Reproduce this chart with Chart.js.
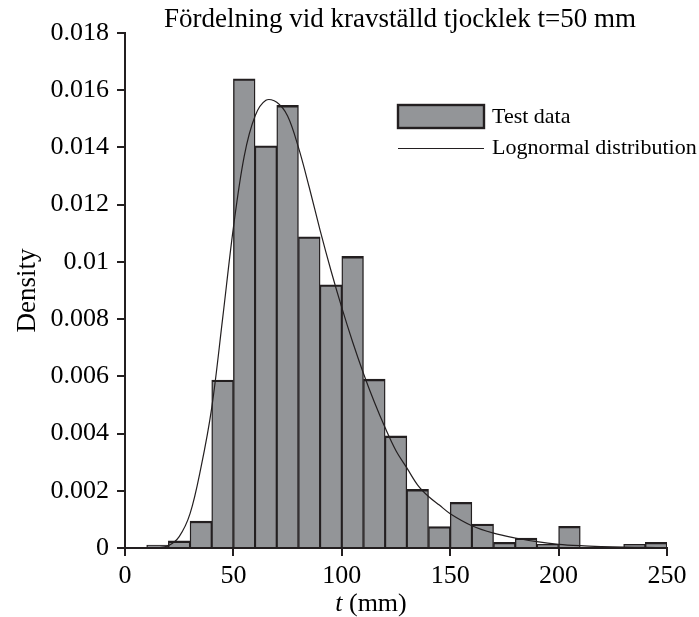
<!DOCTYPE html>
<html>
<head>
<meta charset="utf-8">
<title>Fördelning vid kravställd tjocklek</title>
<script src="https://cdn.jsdelivr.net/npm/chart.js@4.4.1/dist/chart.umd.min.js"></script>
<style>
    html, body { margin: 0; padding: 0; background: #fff; }
    #wrap { width: 699px; height: 617px; }
</style>
</head>
<body>
<div id="wrap"><canvas id="densityChart" width="699" height="617"></canvas></div>
<script>
/*////////////////////////////// data //////////////////////////////////*/

// histogram bins, 10 mm wide (centre of each bin)
const binCenters = [5, 15, 25, 35, 45, 55, 65, 75, 85, 95, 105, 115, 125, 135, 145, 155, 165, 175, 185, 195, 205, 215, 225, 235, 245];
const testDensity = [0, 0.0001, 0.00025, 0.00094, 0.00587, 0.0164, 0.01406, 0.01547, 0.01088, 0.0092, 0.01019, 0.0059, 0.00392, 0.00205, 0.00075, 0.0016, 0.00084, 0.0002, 0.00035, 0.00013, 0.00076, 0, 0, 0.00013, 0.0002];

// fitted lognormal curve
const curveT = [0, 10, 15, 20, 25, 30, 35, 40, 45, 50, 55, 60, 65, 70, 75, 80, 85, 90, 95, 100, 105, 110, 115, 120, 125, 130, 135, 140, 145, 150, 160, 170, 180, 190, 200, 210, 220, 230, 240, 250];
const curveDensity = [0, 0, 0.00001, 0.00008, 0.0004, 0.0012, 0.0028, 0.0049, 0.0080, 0.0112, 0.0137, 0.0151, 0.01565, 0.01558, 0.0151, 0.0140, 0.0126, 0.0111, 0.0097, 0.0084, 0.0072, 0.0061, 0.0051, 0.0042, 0.0034, 0.0028, 0.0022, 0.0018, 0.0015, 0.0012, 0.00078, 0.00052, 0.00035, 0.00022, 0.00013, 0.00008, 0.00005, 0.00003, 0.00002, 0.00001];

const yTickLabels = ['0', '0.002', '0.004', '0.006', '0.008', '0.01', '0.012', '0.014', '0.016', '0.018'];
const xTickLabels = ['0', '50', '100', '150', '200', '250'];

const chartTitle = 'Fördelning vid kravställd tjocklek t=50 mm';

/*///////////////////////////////////////////////////////////////////*/

const ink = '#231f20';
const barGray = '#939598';
const serif = '"Liberation Serif", "Times New Roman", serif';

// title, legend box and x axis title (italic t) drawn by hand
const extrasPlugin = {
    id: 'extras',
    afterDraw(chart) {
        const ctx = chart.ctx;
        const area = chart.chartArea;
        const bars = chart.data.datasets[0];
        const line = chart.data.datasets[1];
        ctx.save();

        // title
        ctx.fillStyle = '#000';
        ctx.font = '27px ' + serif;
        ctx.textAlign = 'center';
        ctx.textBaseline = 'alphabetic';
        ctx.fillText(chartTitle, 400, 27);

        // legend
        ctx.fillStyle = bars.backgroundColor;
        ctx.fillRect(398, 105, 86, 23);
        ctx.strokeStyle = ink;
        ctx.lineWidth = 2.4;
        ctx.strokeRect(398, 105, 86, 23);
        ctx.beginPath();
        ctx.lineWidth = 1.2;
        ctx.moveTo(398, 148.5);
        ctx.lineTo(484, 148.5);
        ctx.stroke();

        ctx.fillStyle = '#000';
        ctx.font = '22px ' + serif;
        ctx.textBaseline = 'middle';
        ctx.textAlign = 'left';
        ctx.fillText(bars.label, 492, 117);
        ctx.fillText(line.label, 492, 148);

        // x title
        ctx.font = 'italic 26px ' + serif;
        const tW = ctx.measureText('t').width;
        ctx.font = '26px ' + serif;
        const restW = ctx.measureText(' (mm)').width;
        const x0 = (area.left + area.right) / 2 - 25 - (tW + restW) / 2;
        ctx.textBaseline = 'alphabetic';
        ctx.font = 'italic 26px ' + serif;
        ctx.fillText('t', x0, 611);
        ctx.font = '26px ' + serif;
        ctx.fillText(' (mm)', x0 + tW, 611);

        ctx.restore();
    }
};

const renderDensityChart = () => {
    const ctx = document.getElementById('densityChart').getContext('2d');
    new Chart(ctx, {
        type: 'bar',
        data: {
            datasets: [{
                type: 'bar',
                label: 'Test data',
                data: binCenters.map((t, i) => ({ x: t, y: testDensity[i] })),
                backgroundColor: barGray,
                borderColor: ink,
                borderWidth: { top: 2.4, left: 1.4, right: 1.4, bottom: 0 },
                borderSkipped: false,
                barPercentage: 1,
                categoryPercentage: 1,
                order: 2
            }, {
                type: 'line',
                label: 'Lognormal distribution',
                data: curveT.map((t, i) => ({ x: t, y: curveDensity[i] })),
                borderColor: ink,
                borderWidth: 1.2,
                pointRadius: 0,
                fill: false,
                tension: 0.35,
                order: 1
            }]
        },
        options: {
            responsive: false,
            animation: false,
            layout: { padding: { left: 0, right: 32, top: 33, bottom: 0 } },
            scales: {
                x: {
                    type: 'linear',
                    min: 0,
                    max: 250,
                    offset: false,
                    afterFit: scale => { scale.height = 617 - 548; },
                    grid: {
                        offset: false,
                        drawOnChartArea: false,
                        drawTicks: true,
                        tickLength: 8,
                        color: ink,
                        lineWidth: 2
                    },
                    border: { display: true, color: ink, width: 2 },
                    ticks: {
                        stepSize: 50,
                        padding: 5,
                        color: '#000',
                        font: { family: serif, size: 26 },
                        maxRotation: 0,
                        callback: (v) => xTickLabels[xTickLabels.indexOf(String(v))] || ''
                    }
                },
                y: {
                    min: 0,
                    max: 0.018,
                    afterFit: scale => { scale.width = 125; },
                    grid: {
                        drawOnChartArea: false,
                        drawTicks: true,
                        tickLength: 8,
                        color: ink,
                        lineWidth: 2
                    },
                    border: { display: true, color: ink, width: 2 },
                    ticks: {
                        stepSize: 0.002,
                        padding: 8,
                        color: '#000',
                        font: { family: serif, size: 26 },
                        callback: (v) => yTickLabels[Math.round(v / 0.002)]
                    },
                    title: {
                        display: true,
                        text: 'Density',
                        color: '#000',
                        font: { family: serif, size: 27 },
                        padding: { top: 12, bottom: 0 }
                    }
                }
            },
            plugins: {
                legend: { display: false },
                tooltip: { enabled: false },
                title: { display: false }
            }
        },
        plugins: [extrasPlugin]
    });
};

document.addEventListener('DOMContentLoaded', renderDensityChart);
</script>
</body>
</html>
